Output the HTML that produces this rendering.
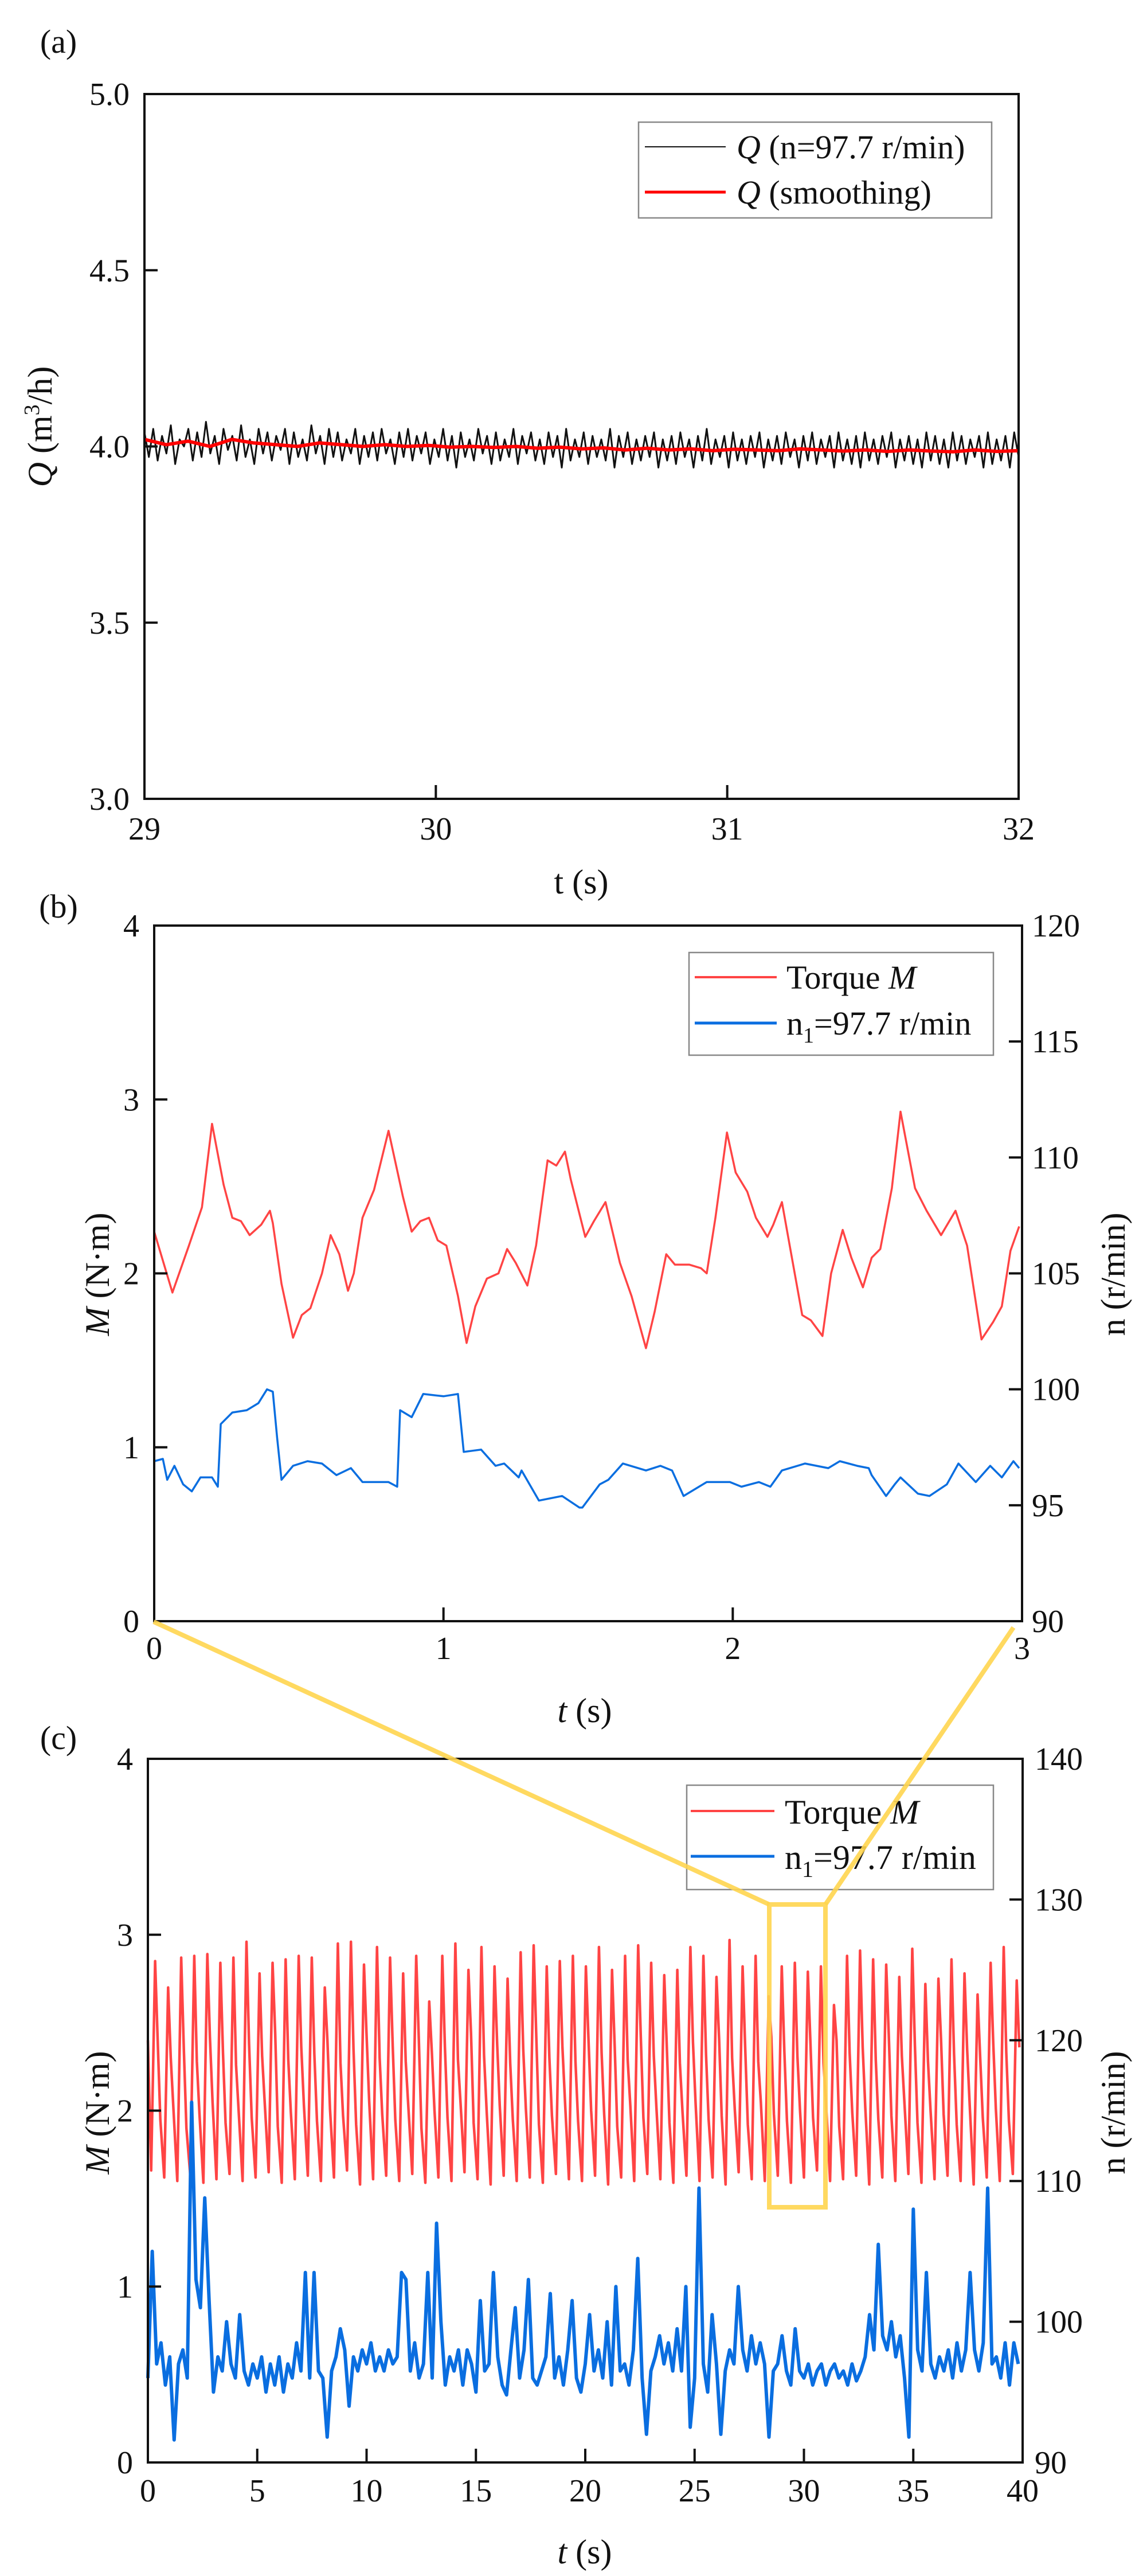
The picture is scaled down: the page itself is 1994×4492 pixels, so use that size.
<!DOCTYPE html>
<html><head><meta charset="utf-8"><style>
html,body{margin:0;padding:0;background:#fff}
svg{display:block}
text{font-family:"Liberation Serif",serif;fill:#111}
</style></head><body>
<svg id="fig" width="1994" height="4492" viewBox="0 0 1994 4492" xmlns="http://www.w3.org/2000/svg"></svg>
<script>
// ---------- data panel (a) ----------
const aNoise = [4.04,3.97,4.05,3.96,4.03,3.98,4.06,3.95,4.02,4.00,4.05,3.96,4.04,3.97,4.07,3.98,4.03,3.95,4.05,3.99,
4.03,3.96,4.06,3.97,4.02,3.95,4.05,3.98,4.04,3.96,4.03,3.99,4.05,3.95,4.04,3.97,4.02,3.96,4.06,3.98,
4.03,3.95,4.05,3.97,4.04,3.96,4.02,3.98,4.05,3.95,4.03,3.97,4.04,3.96,4.05,3.98,4.02,3.95,4.04,3.97,
4.05,3.96,4.03,3.98,4.04,3.95,4.02,3.97,4.05,3.96,4.03,3.94,4.04,3.97,4.02,3.96,4.05,3.98,4.03,3.95,
4.04,3.96,4.02,3.97,4.05,3.95,4.03,3.98,4.04,3.96,4.02,3.95,4.04,3.97,4.03,3.94,4.05,3.96,4.02,3.97,
4.04,3.95,4.03,3.97,4.02,3.96,4.05,3.94,4.03,3.97,4.04,3.95,4.02,3.96,4.03,3.97,4.04,3.94,4.02,3.96,
4.03,3.95,4.04,3.97,4.02,3.94,4.03,3.96,4.05,3.95,4.02,3.97,4.03,3.94,4.04,3.96,4.02,3.95,4.03,3.97,
4.04,3.94,4.02,3.96,4.03,3.95,4.04,3.97,4.02,3.94,4.03,3.96,4.04,3.95,4.02,3.97,4.03,3.94,4.04,3.96,
4.02,3.95,4.03,3.94,4.04,3.96,4.02,3.95,4.03,3.97,4.04,3.94,4.02,3.96,4.03,3.95,4.02,3.94,4.04,3.96,
4.03,3.95,4.02,3.94,4.04,3.96,4.03,3.95,4.02,3.97,4.03,3.94,4.04,3.95,4.02,3.96,4.03,3.94,4.04,3.97];
const aSmooth = [4.02,4.005,4.015,4.00,4.02,4.01,4.005,4.00,4.01,4.005,4.00,4.005,4.00,4.003,3.998,4.00,3.997,4.00,3.995,3.998,3.993,3.996,3.99,3.995,3.99,3.993,3.988,3.992,3.99,3.988,3.993,3.99,3.987,3.99,3.986,3.99,3.987,3.985,3.99,3.986,3.988];
const aXTicks = [29,30,31,32];
const aYTicks = ["3.0","3.5","4.0","4.5","5.0"];
// ---------- data panel (b) ----------
const bTorqueT = [0,0.063,0.12,0.165,0.20,0.24,0.27,0.30,0.33,0.37,0.40,0.41,0.44,0.48,0.51,0.54,0.58,0.61,0.64,0.67,0.69,0.72,0.76,0.81,0.86,0.89,0.92,0.95,0.98,1.01,1.05,1.08,1.11,1.15,1.19,1.22,1.25,1.29,1.32,1.36,1.39,1.42,1.44,1.49,1.52,1.56,1.61,1.65,1.70,1.73,1.77,1.80,1.85,1.89,1.91,1.94,1.98,2.01,2.05,2.08,2.12,2.14,2.17,2.20,2.24,2.27,2.31,2.34,2.38,2.41,2.45,2.48,2.51,2.55,2.58,2.63,2.67,2.72,2.77,2.81,2.86,2.90,2.93,2.96,2.99];
const bTorqueM = [2.24,1.89,2.16,2.38,2.86,2.51,2.32,2.30,2.22,2.28,2.36,2.29,1.94,1.63,1.76,1.80,2.00,2.22,2.11,1.90,2.00,2.32,2.48,2.82,2.44,2.24,2.30,2.32,2.19,2.16,1.87,1.60,1.81,1.97,2.00,2.14,2.06,1.93,2.16,2.65,2.62,2.70,2.54,2.21,2.30,2.41,2.06,1.87,1.57,1.78,2.11,2.05,2.05,2.03,2.00,2.32,2.81,2.58,2.47,2.32,2.21,2.28,2.41,2.13,1.76,1.73,1.64,2.00,2.25,2.09,1.92,2.09,2.14,2.49,2.93,2.49,2.36,2.22,2.36,2.16,1.62,1.72,1.81,2.13,2.27];
const bSpeedT = [0,0.03,0.045,0.07,0.10,0.13,0.16,0.20,0.22,0.23,0.27,0.32,0.36,0.39,0.41,0.425,0.44,0.48,0.53,0.58,0.63,0.68,0.72,0.81,0.84,0.85,0.89,0.93,1.00,1.05,1.07,1.13,1.18,1.21,1.26,1.27,1.33,1.37,1.41,1.47,1.48,1.54,1.57,1.62,1.70,1.75,1.79,1.83,1.91,1.99,2.03,2.09,2.13,2.17,2.25,2.33,2.37,2.43,2.47,2.48,2.53,2.56,2.58,2.64,2.68,2.74,2.78,2.84,2.89,2.93,2.97,2.99];
const bSpeedN = [96.9,97.0,96.1,96.7,95.9,95.6,96.2,96.2,95.8,98.5,99.0,99.1,99.4,100.0,99.9,97.9,96.1,96.7,96.9,96.8,96.3,96.6,96.0,96.0,95.8,99.1,98.8,99.8,99.7,99.8,97.3,97.4,96.7,96.8,96.2,96.5,95.2,95.3,95.4,94.9,94.9,95.9,96.1,96.8,96.5,96.7,96.5,95.4,96.0,96.0,95.8,96.0,95.8,96.5,96.8,96.6,96.9,96.7,96.6,96.3,95.4,95.9,96.2,95.5,95.4,95.9,96.8,96.0,96.7,96.2,96.9,96.6];
const bXTicks = [0,1,2,3];
const bYTicks = [0,1,2,3,4];
const bY2Ticks = [90,95,100,105,110,115,120];
// ---------- data panel (c) ----------
const cTrough = [1.66,1.62,1.60,1.63,1.59,1.61,1.64,1.60,1.62,1.65,1.59,1.61,1.63,1.60,1.62,1.66,1.58,1.61,1.63,1.60,1.64,1.59,1.62,1.60,1.65,1.61,1.58,1.63,1.60,1.62,1.59,1.64,1.61,1.60,1.63,1.58,1.62,1.60,1.64,1.61,1.59,1.63,1.60,1.62,1.58,1.65,1.61,1.60,1.63,1.59,1.62,1.66,1.60,1.61,1.63,1.58,1.62,1.60,1.64,1.59,1.61,1.63,1.60,1.58,1.62,1.60,1.64];
const cPeak = [2.85,2.70,2.87,2.88,2.89,2.84,2.87,2.96,2.78,2.84,2.86,2.88,2.87,2.70,2.95,2.96,2.83,2.93,2.87,2.78,2.88,2.62,2.88,2.95,2.80,2.93,2.82,2.75,2.90,2.94,2.82,2.85,2.88,2.82,2.93,2.80,2.88,2.94,2.84,2.77,2.80,2.93,2.88,2.76,2.97,2.82,2.88,2.65,2.82,2.84,2.79,2.82,2.60,2.88,2.91,2.86,2.83,2.76,2.92,2.72,2.75,2.86,2.78,2.66,2.84,2.93,2.74];
const cMid = [2.40,2.30,2.35,2.28,2.42,2.33,2.26,2.38,2.31,2.44,2.29,2.36,2.32,2.40,2.27,2.35,2.43,2.30,2.37,2.28,2.41,2.33,2.36,2.29,2.44,2.31,2.38,2.27,2.35,2.42,2.30,2.36,2.28,2.40,2.33,2.37,2.29,2.43,2.31,2.35,2.27,2.39,2.32,2.41,2.30,2.36,2.28,2.42,2.34,2.31,2.38,2.27,2.40,2.33,2.36,2.29,2.43,2.31,2.37,2.28,2.41,2.32,2.35,2.30,2.39,2.33,2.36];
const cLow = [1.95,2.02,1.90,1.98,2.05,1.93,2.00,1.96,2.04,1.91,1.99,2.03,1.94,2.01,1.97,1.92,2.05,1.98,1.95,2.02,1.90,2.00,1.96,2.04,1.93,1.99,2.03,1.95,2.01,1.92,1.97,2.05,1.94,2.00,1.98,1.91,2.03,1.96,2.02,1.93,1.99,2.04,1.95,1.97,2.01,1.92,2.05,1.98,1.94,2.00,1.96,2.03,1.91,1.99,2.02,1.95,1.97,2.04,1.93,2.00,1.98,1.92,2.03,1.96,2.01,1.94,1.99];
const cPeriod = 0.597;
const cSpeed = [96.0,105.0,97.0,98.5,95.5,97.5,91.6,97.0,98.0,96.0,
115.6,103.0,101.0,108.8,101.5,95.0,97.5,96.5,100.0,97.0,
96.0,100.5,96.5,95.5,97.0,96.0,97.5,95.0,97.0,95.5,
97.5,95.0,97.0,96.0,98.5,96.5,103.5,96.0,103.5,96.5,
96.0,91.8,96.5,97.5,99.5,98.0,94.0,97.5,96.5,98.0,
97.0,98.5,96.5,97.5,96.5,98.0,97.0,97.5,103.5,103.0,
96.5,98.5,96.0,97.0,103.5,96.0,107.0,100.0,95.5,97.5,
96.5,98.0,95.5,98.0,97.0,95.0,101.5,96.5,97.0,103.5,
97.5,95.5,94.8,98.0,101.0,96.0,98.0,103.0,96.0,95.5,
96.5,97.5,102.0,96.0,97.5,95.5,98.0,101.5,96.0,95.0,
97.0,100.5,96.5,98.0,96.0,100.0,95.5,102.5,96.5,97.0,
95.5,98.0,104.5,96.0,92.0,96.5,97.5,99.0,97.0,98.5,
96.5,99.5,96.5,102.5,92.5,96.0,109.5,97.0,95.0,100.5,
97.0,92.0,96.5,98.0,97.0,102.5,98.0,96.5,99.0,97.0,
98.5,97.0,91.8,96.5,97.0,99.0,96.5,95.5,99.5,96.5,
96.0,97.0,95.5,96.5,97.0,95.5,96.5,97.0,96.0,96.5,
95.5,97.0,95.8,96.5,97.5,100.5,98.0,105.5,99.0,98.0,
100.0,97.5,99.0,96.0,91.8,108.0,98.0,96.5,103.5,97.0,
96.0,97.5,96.5,98.0,96.0,98.5,96.5,98.0,103.5,98.0,
96.5,98.5,109.5,97.0,97.5,96.0,98.5,95.5,98.5,97.0];
const cSpeedDt = 0.2;
const cXTicks = [0,5,10,15,20,25,30,35,40];
const cYTicks = [0,1,2,3,4];
const cY2Ticks = [90,100,110,120,130,140];

const NS = "http://www.w3.org/2000/svg";
const fig = document.getElementById("fig");
function mk(tag, attrs, parent) {
  const e = document.createElementNS(NS, tag);
  for (const k in attrs) e.setAttribute(k, attrs[k]);
  (parent || fig).appendChild(e);
  return e;
}
function lin(d0, d1, r0, r1) { return v => r0 + (v - d0) * (r1 - r0) / (d1 - d0); }
function txt(x, y, s, size, anchor, parent, name) {
  const t = mk("text", {x: x, y: y, "font-size": size, "text-anchor": anchor || "middle"}, parent);
  t.textContent = s;
  
  
  return t;
}
function poly(pts, color, w, parent, name) {
  const p = mk("polyline", {points: pts.map(q => q[0].toFixed(1) + "," + q[1].toFixed(1)).join(" "), fill: "none", stroke: color, "stroke-width": w, "stroke-linejoin": "round"}, parent);
  
  
  return p;
}
function frame(L, T, R, B, parent) {
  const r = mk("rect", {x: L, y: T, width: R - L, height: B - T, fill: "none", stroke: "#111", "stroke-width": 4}, parent);
  
  
}
function tick(x1, y1, x2, y2, parent) {
  const l = mk("line", {x1: x1, y1: y1, x2: x2, y2: y2, stroke: "#111", "stroke-width": 4}, parent);
  
  
}
function legendBox(x, y, w, h, parent) {
  const r = mk("rect", {x: x, y: y, width: w, height: h, fill: "#fff", stroke: "#888", "stroke-width": 2.5}, parent);
  
  
}
function group(name) {
  const g = mk("g", {});
  
  
  return g;
}
const FS = 56;

// ================= Panel (a) =================
(function () {
  const g = group("panel-a");
  const L = 252, R = 1777, T = 164, B = 1393;
  const x = lin(29, 32, L, R), y = lin(3, 5, B, T);
  txt(102, 92, "(a)", 58, "middle", g, "panel-label-a");
  const dt = 3 / (aNoise.length - 1);
  poly(aNoise.map((v, i) => [x(29 + i * dt), y(v)]), "#111", 3, g, "q-raw-line");
  const dt2 = 3 / (aSmooth.length - 1);
  poly(aSmooth.map((v, i) => [x(29 + i * dt2), y(v)]), "#f00", 6, g, "q-smooth-line");
  frame(L, T, R, B, g);
  aXTicks.forEach(v => { if (v > 29 && v < 32) tick(x(v), B, x(v), B - 24, g); txt(x(v), 1464, String(v), FS, "middle", g, "x-tick-label"); });
  aYTicks.forEach(s => { const v = parseFloat(s); if (v > 3 && v < 5) tick(L, y(v), L + 23, y(v), g); txt(226, y(v) + 19, s, FS, "end", g, "y-tick-label"); });
  const xt = txt(1014, 1558, "t (s)", 60, "middle", g, "x-axis-title");
  const yt = mk("text", {x: 0, y: 0, "font-size": 60, "text-anchor": "middle", transform: "translate(90,744) rotate(-90)"}, g);
  
  
  yt.innerHTML = '<tspan font-style="italic">Q</tspan> (m<tspan font-size="38" dy="-22">3</tspan><tspan dy="22">/h)</tspan>';
  legendBox(1114, 213, 616, 167, g);
  poly([[1125, 256], [1266, 256]], "#111", 2, g, "legend-line-raw");
  poly([[1125, 335], [1266, 335]], "#f00", 5, g, "legend-line-smooth");
  const l1 = mk("text", {x: 1285, y: 276, "font-size": 58}, g);
   
  l1.innerHTML = '<tspan font-style="italic">Q</tspan> (n=97.7 r/min)';
  const l2 = mk("text", {x: 1285, y: 355, "font-size": 58}, g);
   
  l2.innerHTML = '<tspan font-style="italic">Q</tspan> (smoothing)';
})();

// ================= Panel (b) =================
(function () {
  const g = group("panel-b");
  const L = 269, R = 1783, T = 1614, B = 2827;
  const x = lin(0, 3, L, R), y = lin(0, 4, B, T), y2 = lin(90, 120, B, T);
  txt(102, 1600, "(b)", 58, "middle", g, "panel-label-b");
  poly(bTorqueT.map((t, i) => [x(t), y(bTorqueM[i])]), "#f44", 3.5, g, "torque-line");
  poly(bSpeedT.map((t, i) => [x(t), y2(bSpeedN[i])]), "#0a6ee0", 3.5, g, "speed-line");
  frame(L, T, R, B, g);
  bXTicks.forEach(v => { if (v > 0 && v < 3) tick(x(v), B, x(v), B - 24, g); txt(x(v), 2893, String(v), FS, "middle", g, "x-tick-label"); });
  bYTicks.forEach(v => { if (v > 0 && v < 4) tick(L, y(v), L + 23, y(v), g); txt(243, y(v) + 19, String(v), FS, "end", g, "y-tick-label"); });
  bY2Ticks.forEach(v => { if (v > 90 && v < 120) tick(R, y2(v), R - 23, y2(v), g); txt(1800, y2(v) + 19, String(v), FS, "start", g, "y2-tick-label"); });
  const xt = mk("text", {x: 1020, y: 3003, "font-size": 60, "text-anchor": "middle"}, g);
   
  xt.innerHTML = '<tspan font-style="italic">t</tspan> (s)';
  const yt = mk("text", {x: 0, y: 0, "font-size": 60, "text-anchor": "middle", transform: "translate(190,2222) rotate(-90)"}, g);
   
  yt.innerHTML = '<tspan font-style="italic">M</tspan> (N·m)';
  const yt2 = mk("text", {x: 0, y: 0, "font-size": 60, "text-anchor": "middle", transform: "translate(1962,2222) rotate(-90)"}, g);
   
  yt2.textContent = "n (r/min)";
  legendBox(1202, 1661, 531, 179, g);
  poly([[1212, 1704], [1355, 1704]], "#f44", 4, g, "legend-line-torque");
  poly([[1212, 1784], [1355, 1784]], "#0a6ee0", 5, g, "legend-line-speed");
  const l1 = mk("text", {x: 1372, y: 1724, "font-size": 58}, g);
   
  l1.innerHTML = 'Torque <tspan font-style="italic">M</tspan>';
  const l2 = mk("text", {x: 1372, y: 1804, "font-size": 58}, g);
   
  l2.innerHTML = 'n<tspan font-size="38" dy="14">1</tspan><tspan dy="-14">=97.7 r/min</tspan>';
})();

// ================= Panel (c) =================
(function () {
  const g = group("panel-c");
  const L = 258, R = 1784, T = 3067, B = 4294;
  const x = lin(0, 40, L, R), y = lin(0, 4, B, T), y2 = lin(90, 140, B, T);
  txt(102, 3050, "(c)", 58, "middle", g, "panel-label-c");
  const pts = [[x(0), y(2.40)]];
  cTrough.forEach((tr, i) => {
    const t0 = 0.15 + i * cPeriod;
    if (t0 > 39.9) return;
    pts.push([x(t0), y(tr)]);
    if (t0 + 0.3 * cPeriod < 39.9) pts.push([x(t0 + 0.3 * cPeriod), y(cPeak[i])]);
    if (t0 + 0.5 * cPeriod < 39.9) pts.push([x(t0 + 0.5 * cPeriod), y(cMid[i])]);
    if (t0 + 0.7 * cPeriod < 39.9) pts.push([x(t0 + 0.7 * cPeriod), y(cLow[i])]);
  });
  poly(pts, "#f44", 4.5, g, "torque-line");
  poly(cSpeed.map((v, i) => [x(i * cSpeedDt), y2(v)]), "#0a6ee0", 6, g, "speed-line");
  frame(L, T, R, B, g);
  cXTicks.forEach(v => { if (v > 0 && v < 40) tick(x(v), B, x(v), B - 24, g); txt(x(v), 4362, String(v), FS, "middle", g, "x-tick-label"); });
  cYTicks.forEach(v => { if (v > 0 && v < 4) tick(L, y(v), L + 23, y(v), g); txt(232, y(v) + 19, String(v), FS, "end", g, "y-tick-label"); });
  cY2Ticks.forEach(v => { if (v > 90 && v < 140) tick(R, y2(v), R - 23, y2(v), g); txt(1805, y2(v) + 19, String(v), FS, "start", g, "y2-tick-label"); });
  const xt = mk("text", {x: 1020, y: 4470, "font-size": 60, "text-anchor": "middle"}, g);
   
  xt.innerHTML = '<tspan font-style="italic">t</tspan> (s)';
  const yt = mk("text", {x: 0, y: 0, "font-size": 60, "text-anchor": "middle", transform: "translate(190,3684) rotate(-90)"}, g);
   
  yt.innerHTML = '<tspan font-style="italic">M</tspan> (N·m)';
  const yt2 = mk("text", {x: 0, y: 0, "font-size": 60, "text-anchor": "middle", transform: "translate(1962,3684) rotate(-90)"}, g);
   
  yt2.textContent = "n (r/min)";
  legendBox(1198, 3113, 535, 182, g);
  poly([[1205, 3158], [1351, 3158]], "#f44", 4, g, "legend-line-torque");
  poly([[1205, 3237], [1351, 3237]], "#0a6ee0", 5, g, "legend-line-speed");
  const l1 = mk("text", {x: 1369, y: 3180, "font-size": 60}, g);
   
  l1.innerHTML = 'Torque <tspan font-style="italic">M</tspan>';
  const l2 = mk("text", {x: 1369, y: 3259, "font-size": 60}, g);
   
  l2.innerHTML = 'n<tspan font-size="40" dy="14">1</tspan><tspan dy="-14">=97.7 r/min</tspan>';
})();

// ================= Zoom connector (yellow) =================
(function () {
  const g = group("zoom-indicator");
  const c = "#FFD54F";
  const l1 = mk("polyline", {points: "268,2828 1342,3321", fill: "none", stroke: c, "stroke-width": 8, opacity: 0.9}, g);
   
  const l2 = mk("polyline", {points: "1768,2838 1440,3321", fill: "none", stroke: c, "stroke-width": 8, opacity: 0.9}, g);
   
  const r = mk("rect", {x: 1342, y: 3321, width: 98, height: 528, fill: "none", stroke: c, "stroke-width": 8, opacity: 0.9}, g);
   
})();
</script>
</body></html>
